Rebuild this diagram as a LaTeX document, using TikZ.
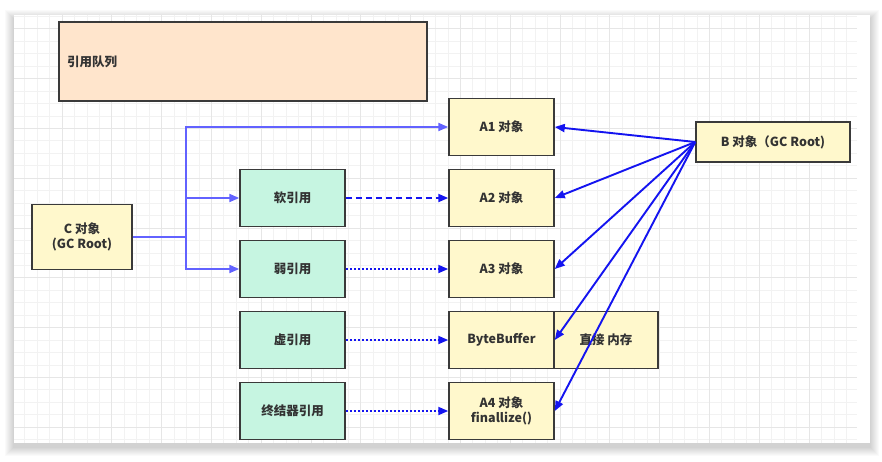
\documentclass[tikz,border=0pt]{standalone}
\usepackage{fontspec}
\setmainfont{Noto Sans CJK SC}
\usepackage{tikz}
\usetikzlibrary{arrows.meta}

\definecolor{queuefill}{HTML}{FFE5CC}
\definecolor{objfill}{HTML}{FFF8CC}
\definecolor{reffill}{HTML}{C6F5E1}
\definecolor{boxline}{HTML}{3A3A3A}
\definecolor{txt}{HTML}{333333}
\definecolor{lightblue}{HTML}{6262FF}
\definecolor{deepblue}{HTML}{1414F0}
\definecolor{gridminor}{HTML}{F2F2F2}
\definecolor{gridmajor}{HTML}{E6E6E6}

\begin{document}
\begin{tikzpicture}[x=1pt,y=-1pt,node distance=71pt,
    font=\bfseries\fontsize{12.5}{15}\selectfont]
  \tikzset{box/.style={draw=boxline,line width=1.5pt,text=txt,inner sep=0pt,
      minimum width=105pt,minimum height=57pt,align=center}}
  \tikzset{objbox/.style={box,fill=objfill}}
  \tikzset{refbox/.style={box,fill=reffill}}
  \tikzset{queuebox/.style={box,fill=queuefill,minimum height=79pt,
      text width=352pt,inner xsep=8pt,align=left}}
  \tikzset{tip/.style={-{Triangle[length=10pt,width=8pt]}}}
  \tikzset{carrow/.style={tip,draw=lightblue,line width=2pt}}
  \tikzset{barrow/.style={tip,draw=deepblue,line width=1.9pt}}
  \tikzset{dotline/.style={dash pattern=on 2pt off 2pt}}

  % card with grid
  \useasboundingbox (0,0) rectangle (882,461);
  \fill[white] (0,0) rectangle (882,461);
  \foreach \s in {1,...,9}
    \fill[black,opacity=0.018] ({14-\s},{15-\s+4}) rectangle ({870+\s},{443+\s+4});
  \fill[white] (14,15) rectangle (870,443);
  \begin{scope}
    \clip (14,15) rectangle (857,443);
    \foreach \i in {0,...,70}
      \draw[gridminor,line width=0.8pt] ({12.2+12.45*\i},15) -- ({12.2+12.45*\i},443);
    \foreach \j in {0,...,35}
      \draw[gridminor,line width=0.8pt] (14,{16.35+12.45*\j}) -- (857,{16.35+12.45*\j});
    \foreach \i in {0,...,17}
      \draw[gridmajor,line width=0.8pt] ({12.2+49.8*\i},15) -- ({12.2+49.8*\i},443);
    \foreach \j in {0,...,9}
      \draw[gridmajor,line width=0.8pt] (14,{28.8+49.8*\j}) -- (857,{28.8+49.8*\j});
  \end{scope}

  % boxes
  \node[queuebox] (queue) at (243,61.5) {引用队列};
  \node[objbox] (a1) at (501.5,127) {A1 对象};
  \node[objbox] (a2) [below of=a1] {A2 对象};
  \node[objbox] (a3) [below of=a2] {A3 对象};
  \node[objbox] (bb) [below of=a3] {ByteBuffer};
  \node[objbox] (a4) [below of=bb] {A4 对象\\finallize()};
  \node[objbox,minimum width=104pt,node distance=104.5pt] (mem) [right of=bb] {直接 内存};

  \node[refbox,node distance=209pt] (soft) [left of=a2] {软引用};
  \node[refbox] (weak) [below of=soft] {弱引用};
  \node[refbox] (phantom) [below of=weak] {虚引用};
  \node[refbox] (final) [below of=phantom] {终结器引用};

  \node[objbox,minimum width=154pt,minimum height=40pt] (b) at (773,142) {B 对象（GC Root)};
  \node[objbox,minimum width=100pt,minimum height=65pt] (c) at (82,237) {C 对象\\(GC Root)};

  % C object references
  \coordinate (split) at (186,237);
  \draw[carrow] (c.east) -- (split) |- (a1.west);
  \draw[carrow] (split) |- (soft.west);
  \draw[carrow] (split) |- (weak.west);

  \draw[barrow,dash pattern=on 6pt off 4pt] (soft) -- (a2);
  \draw[barrow,dotline] (weak) -- (a3);
  \draw[barrow,dotline] (phantom) -- (bb);
  \draw[barrow,dotline] (final) -- (a4);

  % B object references
  \foreach \n in {a1,a2,a3,bb,a4}
    \draw[barrow] (b.west) -- (\n.east);
\end{tikzpicture}
\end{document}
